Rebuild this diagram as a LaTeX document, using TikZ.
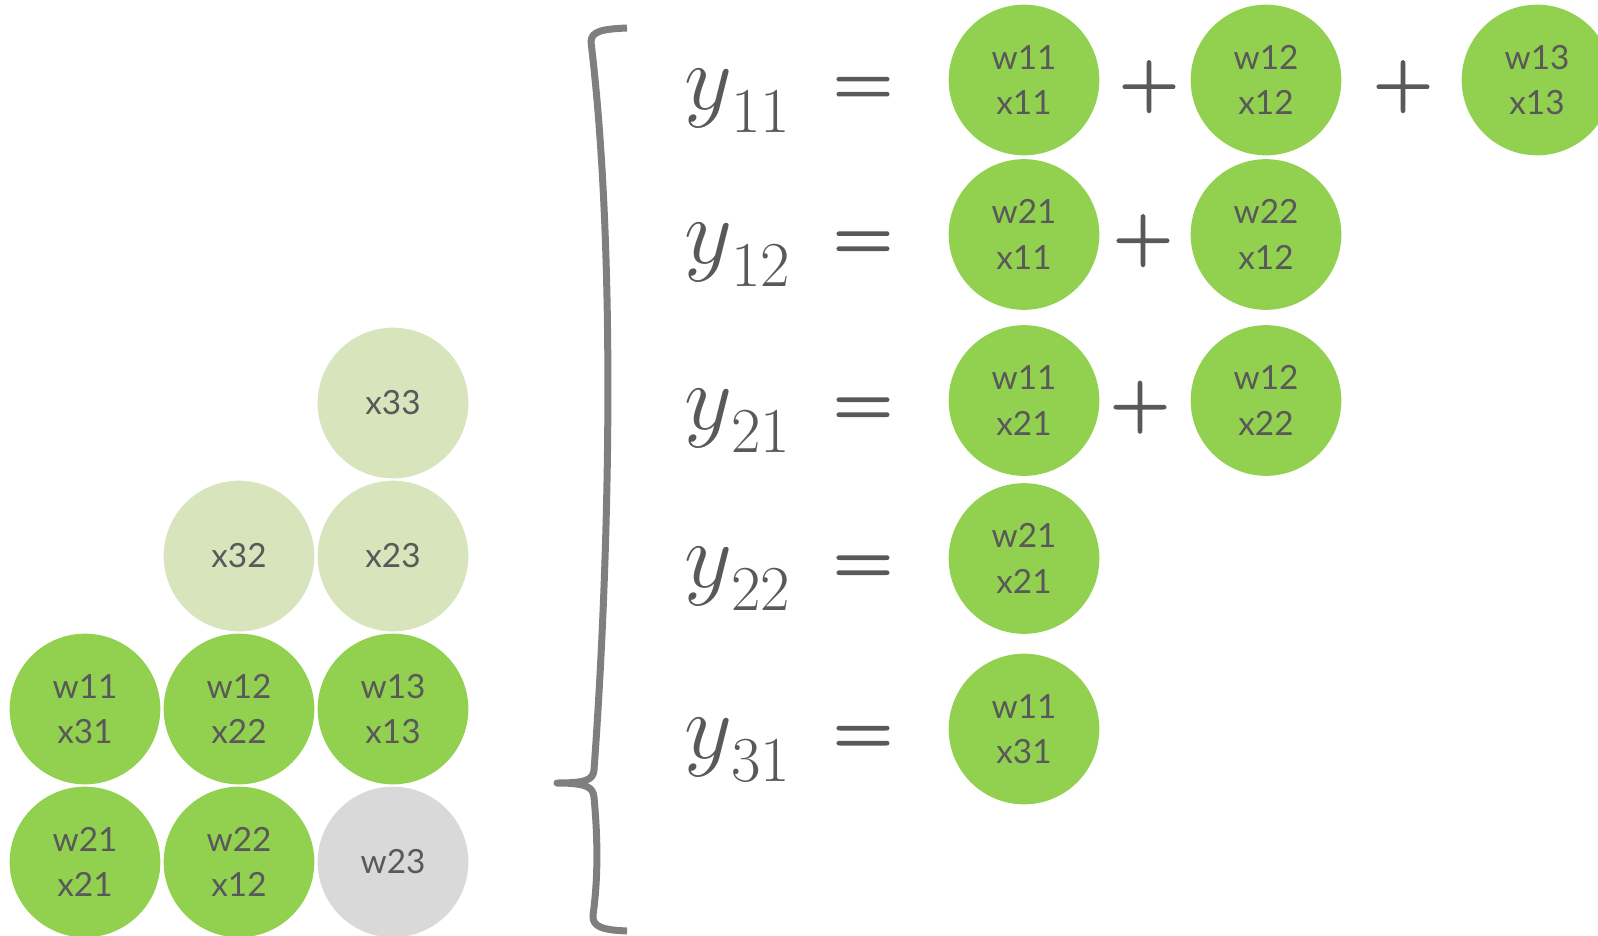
\RequirePackage{fix-cm}
\documentclass[tikz,border=0pt]{standalone}
\usepackage{fontspec}
\newfontfamily\gill{Lato}
\newfontfamily\opfont{lmroman10-regular.otf}[FakeBold=2]
\definecolor{leaf}{HTML}{92D050}
\definecolor{sprout}{HTML}{D8E4BC}
\definecolor{ash}{HTML}{D9D9D9}
\definecolor{ink}{HTML}{595959}
\definecolor{rail}{HTML}{7F7F7F}

\begin{document}
\begin{tikzpicture}[x=0.75pt, y=-0.75pt,
		every node/.style={text=ink},
		ball/.style={circle, fill=leaf, minimum size=113pt, inner sep=0pt, align=center,
			font=\gill\fontsize{25}{34}\selectfont},
		pale/.style={ball, fill=sprout},
		idle/.style={ball, fill=ash},
		sign/.style={inner sep=0pt, anchor=base, font=\opfont\fontsize{58}{58}\selectfont},
		lhs/.style={inner sep=0pt, anchor=base west, font=\fontsize{70}{70}\selectfont}
		]
		\useasboundingbox (0,0) rectangle (1598,935);
		% kernel sliding over the input
		\foreach \name/\xx/\yy/\txt in {g1/85/709/{w11\\x31}, g2/239/709/{w12\\x22},
			g3/393/709/{w13\\x13}, g4/85/862/{w21\\x21}, g5/239/862/{w22\\x12}}
			\node[ball] (\name) at (\xx,\yy) {\txt};
		\foreach \name/\xx/\yy/\txt in {h1/393/403/x33, h2/239/556/x32, h3/393/556/x23}
			\node[pale] (\name) at (\xx,\yy) {\txt};
		\node[idle] (g6) at (393,862) {w23};
		% brace
		\draw[rail, line width=5.25pt, line join=round]
			(627,28) .. controls (603,29) and (591,31) .. (591,42)
			.. controls (616,250) and (610,550) .. (594,770)
			.. controls (593,780) and (586,783) .. (557,783)
			.. controls (586,783) and (593,787) .. (594,797)
			.. controls (598,840) and (598,880) .. (593,915)
			.. controls (592,927) and (603,930) .. (627,931);
		% outputs
		\foreach \row/\yy in {11/80, 12/234.5, 21/400.5, 22/558.5, 31/729} {
			\node[lhs] (y\row) at (684,\yy+29) {$y^{}_{\mbox{\kern2pt\fontsize{48}{48}\selectfont\row}}$};
			\node[sign] (eq\row) at (863,\yy+26) {=};
		}
		\foreach \name/\xx/\yy/\txt in {a1/1024/80/{w11\\x11}, a2/1266/80/{w12\\x12},
			a3/1537/80/{w13\\x13}, b1/1024/234.5/{w21\\x11}, b2/1266/234.5/{w22\\x12},
			c1/1024/400.5/{w11\\x21}, c2/1266/400.5/{w12\\x22}, d1/1024/558.5/{w21\\x21},
			e1/1024/729/{w11\\x31}}
			\node[ball] (\name) at (\xx,\yy) {\txt};
		\foreach \name/\xx/\yy in {p1/1149/106, p2/1403/106, p3/1143/260, p4/1140/426.5}
			\node[sign] (\name) at (\xx,\yy) {+};
\end{tikzpicture}
\end{document}
